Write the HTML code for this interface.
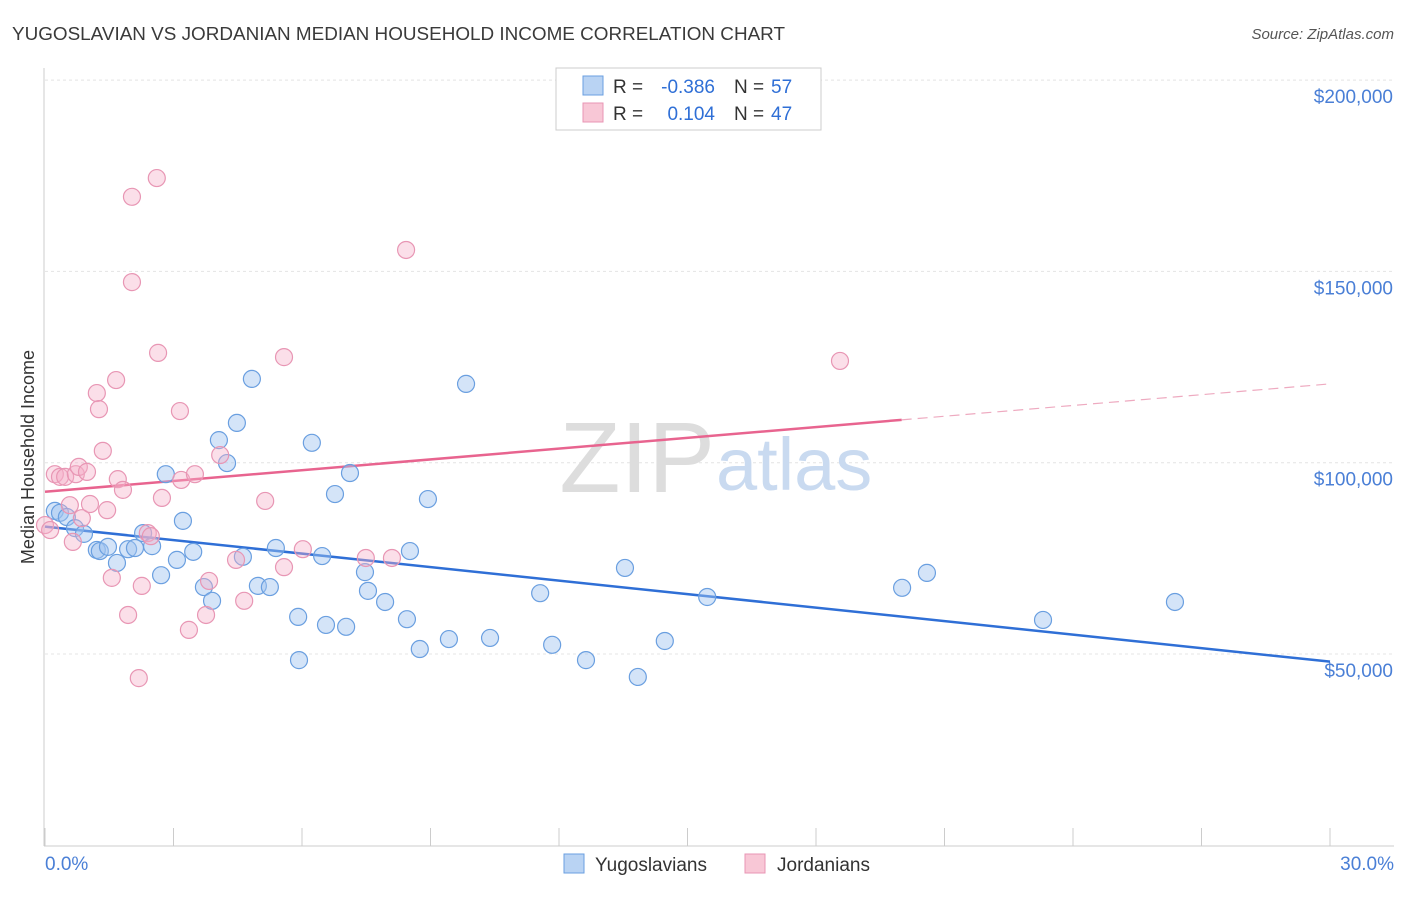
<!DOCTYPE html>
<html><head><meta charset="utf-8">
<style>
body{margin:0;background:#fff;font-family:"Liberation Sans",sans-serif;}
svg text{font-family:"Liberation Sans",sans-serif;}
</style></head>
<body>
<svg id="chart" width="1406" height="892" viewBox="0 0 1406 892" xmlns="http://www.w3.org/2000/svg">
<text x="12" y="40" font-size="18" fill="#3a3a3a" textLength="773" lengthAdjust="spacingAndGlyphs">YUGOSLAVIAN VS JORDANIAN MEDIAN HOUSEHOLD INCOME CORRELATION CHART</text>
<text x="1394" y="39" font-size="15" fill="#555" text-anchor="end" font-style="italic">Source: ZipAtlas.com</text>
<text x="34" y="457" font-size="18" fill="#333" text-anchor="middle" transform="rotate(-90 34 457)">Median Household Income</text>
<g id="grid"></g>
<text x="715" y="492" font-size="100" fill="#ddd" text-anchor="end" font-family="Liberation Serif">ZIP</text>
<text x="716" y="490" font-size="74" fill="#c9daf0">atlas</text>
<g id="lines"></g>
<g id="points"></g>
<g>
<rect x="556" y="68" width="265" height="62" fill="#fff" stroke="#ccc"/>
<rect x="583" y="76" width="20" height="19" fill="#b9d3f3" stroke="#6a9fe0"/>
<rect x="583" y="103" width="20" height="19" fill="#f8c7d6" stroke="#e896b4"/>
<text x="613" y="93" font-size="19" fill="#333">R =</text>
<text x="715" y="93" font-size="19" fill="#2f6fd6" text-anchor="end">-0.386</text>
<text x="734" y="93" font-size="19" fill="#333">N =</text>
<text x="771" y="93" font-size="19" fill="#2f6fd6">57</text>
<text x="613" y="120" font-size="19" fill="#333">R =</text>
<text x="715" y="120" font-size="19" fill="#2f6fd6" text-anchor="end">0.104</text>
<text x="734" y="120" font-size="19" fill="#333">N =</text>
<text x="771" y="120" font-size="19" fill="#2f6fd6">47</text>
</g>
<text x="45" y="870" font-size="19" fill="#4a7fd6">0.0%</text>
<text x="1394" y="870" font-size="19" fill="#4a7fd6" text-anchor="end">30.0%</text>
<g><rect x="564" y="854" width="20" height="19" fill="#b9d3f3" stroke="#6a9fe0"/><text x="595" y="871" font-size="19" fill="#333">Yugoslavians</text></g>
<g><rect x="745" y="854" width="20" height="19" fill="#f8c7d6" stroke="#e896b4"/><text x="777" y="871" font-size="19" fill="#333">Jordanians</text></g>
</svg>
<script>
const yTicks=[50000,100000,150000,200000];
const yTickLabels=["$50,000","$100,000","$150,000","$200,000"];
const xTicks=[0,3,6,9,12,15,18,21,24,27,30];
const blueX=[0.23,0.35,0.51,0.70,0.91,1.21,1.28,1.47,1.68,1.94,2.10,2.29,2.50,2.71,2.82,3.08,3.22,3.46,3.71,3.90,4.06,4.25,4.48,4.62,4.83,4.97,5.25,5.39,5.91,5.93,6.23,6.47,6.56,6.77,7.03,7.12,7.47,7.54,7.94,8.45,8.52,8.75,8.94,9.43,9.83,10.39,11.56,11.84,12.63,13.54,13.84,14.47,15.46,20.01,20.59,23.30,26.38];
const blueY=[87.4,86.9,85.8,82.9,81.4,77.2,76.9,78.0,73.8,77.4,77.7,81.6,78.2,70.6,97.0,74.6,84.8,76.7,67.5,63.9,105.9,99.9,110.4,75.4,121.9,67.8,67.5,77.7,59.7,48.4,105.2,75.6,57.6,91.8,57.1,97.3,71.4,66.5,63.6,59.1,76.9,51.3,90.5,53.9,120.6,54.2,65.9,52.4,48.4,72.5,44.0,53.4,64.9,67.3,71.2,58.9,63.6];
const pinkX=[0,0.12,0.23,0.35,0.47,0.58,0.65,0.72,0.79,0.86,0.98,1.05,1.21,1.26,1.35,1.45,1.56,1.66,1.70,1.82,1.94,2.03,2.03,2.19,2.26,2.40,2.47,2.61,2.64,2.73,3.15,3.18,3.36,3.50,3.76,3.83,4.09,4.46,4.65,5.14,5.58,5.58,6.02,7.49,8.10,8.43,18.56];
const pinkY=[83.7,82.4,97.0,96.3,96.3,88.9,79.3,97.0,98.9,85.5,97.6,89.2,118.2,114.0,103.1,87.6,69.9,121.6,95.7,92.9,60.2,169.5,147.2,43.7,67.8,81.6,80.8,174.4,128.7,90.8,113.5,95.5,56.3,97.0,60.2,69.1,102.0,74.6,63.9,90.0,72.7,127.6,77.4,75.1,75.1,155.6,126.6];
const blueTrend=[83.3,48.0];
const pinkTrend=[92.4,120.6];
const pinkSolidEnd=20;
const NS="http://www.w3.org/2000/svg";
const xs=p=>45+p*(1330-45)/30;
const ys=v=>654-(v-50000)*191.3/50000;
function mk(t,a,parent){const e=document.createElementNS(NS,t);for(const k in a)e.setAttribute(k,a[k]);parent.appendChild(e);return e;}
const grid=document.getElementById('grid');
yTicks.forEach((v,i)=>{
 const l=mk('line',{x1:45,x2:1394,y1:ys(v),y2:ys(v),stroke:'#e4e4e4','stroke-dasharray':'3,3'},grid);
 
 
 const t=mk('text',{x:1393,y:ys(v)+23,'font-size':19,fill:'#4a7fd6','text-anchor':'end'},grid);
 t.textContent=yTickLabels[i];
 
 
});
const ax=mk('line',{x1:44,x2:44,y1:68,y2:846,stroke:'#ccc'},grid);


const bx=mk('line',{x1:44,x2:1394,y1:846,y2:846,stroke:'#ccc'},grid);


xTicks.forEach(p=>{
 const t=mk('line',{x1:xs(p),x2:xs(p),y1:828,y2:846,stroke:'#ccc'},grid);
 
 
});
const pts=document.getElementById('points');
blueX.forEach((x,i)=>{
 const c=mk('circle',{cx:xs(x),cy:ys(blueY[i]*1000),r:8.5,fill:'rgba(160,196,240,0.45)',stroke:'#6a9fe0','stroke-width':1.2},pts);
 
 
});
pinkX.forEach((x,i)=>{
 const c=mk('circle',{cx:xs(x),cy:ys(pinkY[i]*1000),r:8.5,fill:'rgba(245,175,200,0.4)',stroke:'#e896b4','stroke-width':1.2},pts);
 
 
});
const lines=document.getElementById('lines');
const bl=mk('line',{x1:xs(0),y1:ys(blueTrend[0]*1000),x2:xs(30),y2:ys(blueTrend[1]*1000),stroke:'#2f6fd6','stroke-width':2.5},lines);


const pv=p=>pinkTrend[0]+(pinkTrend[1]-pinkTrend[0])*p/30;
const pl=mk('line',{x1:xs(0),y1:ys(pv(0)*1000),x2:xs(pinkSolidEnd),y2:ys(pv(pinkSolidEnd)*1000),stroke:'#e8648f','stroke-width':2.5},lines);


const pd=mk('line',{x1:xs(pinkSolidEnd),y1:ys(pv(pinkSolidEnd)*1000),x2:xs(30),y2:ys(pv(30)*1000),stroke:'#eeaac0','stroke-width':1.2,'stroke-dasharray':'10,6'},lines);


</script>
</body></html>
